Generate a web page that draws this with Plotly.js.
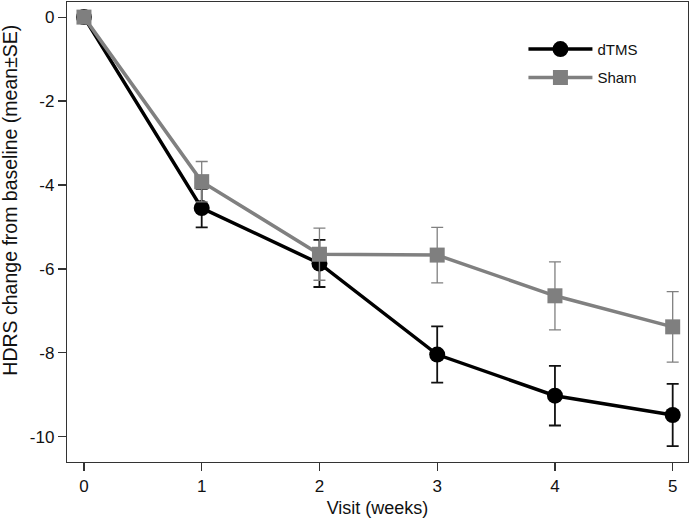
<!DOCTYPE html>
<html>
<head>
<meta charset="utf-8">
<script src="https://cdn.plot.ly/plotly-3.0.1.min.js"></script>
<style>html,body{margin:0;padding:0;background:#fff;}#chart{width:691px;height:523px;}</style>
</head>
<body>
<div id="chart"></div>
<script>
var weeks = [0, 1, 2, 3, 4, 5];
var dtmsMean = [0, -4.55, -5.87, -8.04, -9.02, -9.48];
var dtmsSE = [0, 0.46, 0.56, 0.67, 0.71, 0.74];
var shamMean = [0, -3.92, -5.65, -5.67, -6.64, -7.38];
var shamSE = [0, 0.48, 0.62, 0.66, 0.81, 0.84];
var tickVals = [0, -2, -4, -6, -8, -10];
var xTicks = [0, 1, 2, 3, 4, 5];

var font = 'Liberation Sans, Arial, sans-serif';

var dtms = {
  x: weeks, y: dtmsMean, name: 'dTMS', type: 'scatter', mode: 'lines+markers',
  legendgroup: 'a',
  line: {color: '#000000', width: 3.5},
  marker: {symbol: 'circle', size: 16, color: '#000000'},
  error_y: {type: 'data', array: dtmsSE, visible: true, color: '#111111', thickness: 1.8, width: 6}
};
var sham = {
  x: weeks, y: shamMean, name: 'Sham', type: 'scatter', mode: 'lines+markers',
  legendgroup: 'b',
  line: {color: '#808080', width: 3.5},
  marker: {symbol: 'square', size: 15, color: '#7f7f7f'},
  error_y: {type: 'data', array: shamSE, visible: true, color: '#808080', thickness: 1.3, width: 6}
};

var layout = {
  width: 691, height: 523,
  margin: {l: 67, r: 3, t: 2, b: 61},
  paper_bgcolor: '#ffffff', plot_bgcolor: '#ffffff',
  font: {family: font, color: '#111111', size: 17},
  showlegend: true,
  legend: {x: 0.735, y: 0.933, xanchor: 'left', yanchor: 'top', bgcolor: 'rgba(0,0,0,0)',
           font: {family: font, size: 15, color: '#111'}, tracegroupgap: 6, itemwidth: 64},
  xaxis: {
    range: [-0.144, 5.13], tickvals: xTicks, ticktext: xTicks.map(String),
    showgrid: false, zeroline: false, showline: true, mirror: true,
    linecolor: '#333333', linewidth: 1.2, ticks: 'outside', ticklen: 8, tickcolor: '#333', tickwidth: 1.2,
    tickfont: {size: 17, family: font, color: '#111'},
    title: {text: 'Visit (weeks)', font: {size: 18, family: font, color: '#111'}, standoff: 6}
  },
  yaxis: {
    range: [-10.6, 0.36], tickvals: tickVals, ticktext: tickVals.map(String),
    showgrid: false, zeroline: false, showline: true, mirror: true,
    linecolor: '#333333', linewidth: 1.2, ticks: 'outside', ticklen: 8, tickcolor: '#333', tickwidth: 1.2,
    tickfont: {size: 17, family: font, color: '#111'}
  },
  annotations: [{
    text: 'HDRS change from baseline (mean±SE)', textangle: -90,
    xref: 'paper', yref: 'paper', x: -0.092, y: 0.57, xanchor: 'center', yanchor: 'middle',
    showarrow: false, font: {size: 19.5, family: font, color: '#111'}
  }]
};

Plotly.newPlot('chart', [dtms, sham], layout, {staticPlot: true, displayModeBar: false});
</script>
</body>
</html>
